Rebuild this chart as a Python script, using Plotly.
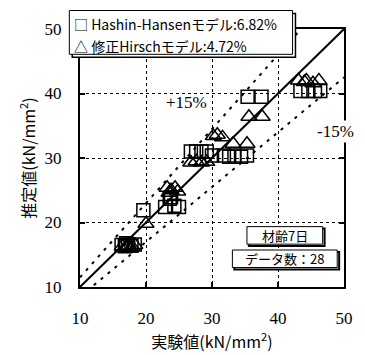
import plotly.graph_objects as go

# Hashin-Hansen model (squares)
hh_x = [16.3, 16.8, 17.3, 17.8, 18.3, 17.0, 19.6, 22.9, 23.6, 24.3, 25.0, 23.8,
        26.8, 27.6, 28.4, 29.2, 30.0, 31.8, 32.6, 33.4, 34.4, 35.3, 35.4, 37.5,
        43.4, 44.6, 45.6, 46.4]
hh_y = [16.5, 16.3, 16.6, 16.4, 16.6, 16.8, 21.9, 22.4, 23.7, 22.6, 22.4, 23.9,
        31.0, 31.0, 31.0, 31.0, 30.4, 30.4, 30.2, 30.4, 30.2, 30.4, 39.5, 39.5,
        40.4, 40.4, 40.4, 40.4]
# modified Hirsch model (triangles)
hi_x = [16.4, 16.9, 17.4, 17.9, 18.3, 17.2, 20.0, 23.2, 23.8, 24.4, 24.8, 23.5,
        26.8, 27.6, 28.4, 29.2, 30.2, 30.8, 31.6, 33.2, 35.3, 35.6, 37.6,
        43.1, 44.0, 44.3, 46.2, 45.3]
hi_y = [16.3, 16.1, 16.4, 16.2, 16.5, 16.4, 19.8, 25.4, 25.0, 25.4, 24.8, 24.6,
        29.3, 29.5, 29.3, 29.4, 33.4, 33.6, 33.2, 32.2, 32.2, 36.4, 36.4,
        42.0, 41.8, 42.0, 42.0, 41.6]

ticks = [10, 20, 30, 40, 50]
line_x = [10, 50]

serif = "Liberation Serif"
jp = "Noto Sans CJK JP"

# page body adds an 8px margin; compensate so the plot lands where the reference has it
OFF = 8
W, H = 357, 345
ml, mt = 72, 14
pw, ph = 272, 265
mr = W - ml - pw
mb = H - mt - ph

fig = go.Figure()
# +/-15% lines
fig.add_trace(go.Scatter(x=line_x, y=[v * 1.15 for v in line_x], mode="lines",
                         line=dict(color="black", width=2, dash="3px,6px"), showlegend=False))
fig.add_trace(go.Scatter(x=line_x, y=[v * 0.85 for v in line_x], mode="lines",
                         line=dict(color="black", width=2, dash="3px,6px"), showlegend=False))
fig.add_trace(go.Scatter(x=line_x, y=line_x, mode="lines",
                         line=dict(color="black", width=2), showlegend=False))
fig.add_trace(go.Scatter(x=hh_x, y=hh_y, mode="markers",
                         marker=dict(symbol="square-open", size=13, color="black",
                                     line=dict(width=1.5, color="black")), showlegend=False))
fig.add_trace(go.Scatter(x=hi_x, y=hi_y, mode="markers",
                         marker=dict(symbol="triangle-up-open", size=14, color="black",
                                     line=dict(width=1.5, color="black")), showlegend=False))

axis_common = dict(range=[10, 50], tickvals=ticks, ticks="inside", ticklen=5, tickwidth=1.5,
                   tickcolor="black", showline=True, linecolor="black", linewidth=2,
                   mirror="ticks", showgrid=True, gridcolor="black", griddash="dot",
                   gridwidth=1, zeroline=False,
                   tickfont=dict(family=serif, size=17, color="black"))

fig.update_xaxes(**axis_common, ticklabelstandoff=15,
                 title=dict(text="実験値(kN/mm<sup>2</sup>)", font=dict(family=jp, size=16, color="black"),
                            standoff=0))
fig.update_yaxes(**axis_common, ticklabelstandoff=13,
                 title=dict(text="推定値(kN/mm<sup>2</sup>)", font=dict(family=jp, size=16, color="black"),
                            standoff=5))


def px(x):
    return (x - OFF - ml) / pw


def py(y):
    return (mt + ph - (y - OFF)) / ph


def dx(p):
    return px(p) * 40 + 10


def dy(p):
    return py(p) * 40 + 10


# legend box (shadow + box)
fig.add_shape(type="rect", xref="paper", yref="paper", x0=px(72), x1=px(302), y0=py(51), y1=py(6),
              line=dict(color="black", width=1.5), fillcolor="white", layer="above")
fig.add_shape(type="rect", xref="paper", yref="paper", x0=px(69), x1=px(299), y0=py(48), y1=py(3),
              line=dict(color="black", width=1), fillcolor="white", layer="above")
fig.add_annotation(xref="paper", yref="paper", x=px(72), y=py(17), xanchor="left", yanchor="middle",
                   text="□ Hashin-Hansenモデル:6.82%", showarrow=False,
                   font=dict(family=jp, size=14, color="black"))
fig.add_annotation(xref="paper", yref="paper", x=px(72), y=py(39), xanchor="left", yanchor="middle",
                   text="△ 修正Hirschモデル:4.72%", showarrow=False,
                   font=dict(family=jp, size=14, color="black"))

fig.add_annotation(x=dx(190), y=dy(97), text="+15%", showarrow=False,
                   font=dict(family=serif, size=17, color="black"))
fig.add_annotation(x=dx(343), y=dy(127), text="-15%", showarrow=False, bgcolor="white",
                   font=dict(family=serif, size=17, color="black"))

# info boxes with shadow
fig.add_shape(type="rect", x0=dx(254), x1=dx(332), y0=dy(245), y1=dy(227),
              line=dict(color="black", width=2), fillcolor="white", layer="above")
fig.add_shape(type="rect", x0=dx(252), x1=dx(330), y0=dy(243), y1=dy(225),
              line=dict(color="black", width=1), fillcolor="white", layer="above")
fig.add_annotation(x=dx(291), y=dy(234), text="材齢7日", showarrow=False,
                   font=dict(family=jp, size=13, color="black"))
fig.add_shape(type="rect", x0=dx(239), x1=dx(347), y0=dy(269), y1=dy(251),
              line=dict(color="black", width=2), fillcolor="white", layer="above")
fig.add_shape(type="rect", x0=dx(237), x1=dx(345), y0=dy(267), y1=dy(249),
              line=dict(color="black", width=1), fillcolor="white", layer="above")
fig.add_annotation(x=dx(291), y=dy(258), text="データ数：28", showarrow=False,
                   font=dict(family=jp, size=13, color="black"))

fig.update_layout(width=W, height=H, margin=dict(l=ml, r=mr, t=mt, b=mb),
                  paper_bgcolor="white", plot_bgcolor="white")

fig.write_html("out.html")
